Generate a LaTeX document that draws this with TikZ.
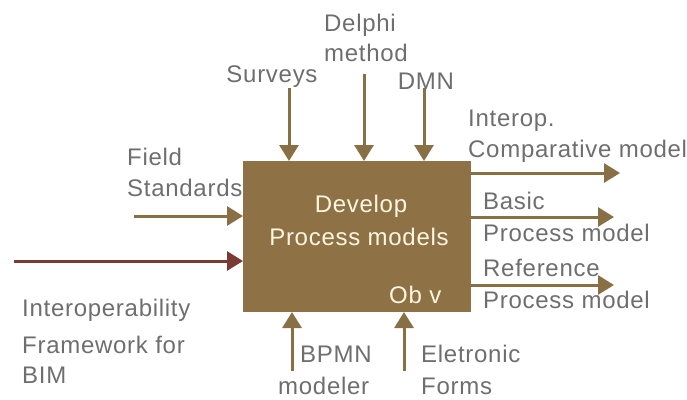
\documentclass[tikz,border=0pt]{standalone}
\usepackage{fontspec}
\setmainfont{Liberation Sans}[LetterSpace=3]
\usetikzlibrary{arrows.meta}
\definecolor{boxbrown}{RGB}{142,114,70}
\definecolor{arrbrown}{RGB}{137,112,68}
\definecolor{darkred}{RGB}{120,58,50}
\definecolor{txtgray}{RGB}{110,110,110}
\definecolor{cream}{RGB}{255,246,225}
\begin{document}
\begin{tikzpicture}[x=1pt,y=-1pt,
  lbl/.style={inner sep=0pt,text=txtgray,font=\fontsize{24}{28}\selectfont},
  inlbl/.style={inner sep=0pt,text=cream,font=\fontsize{24}{28}\selectfont},
  arr/.style={draw=arrbrown,line width=3pt,-{Triangle[width=19pt,length=16pt]}},
  redarr/.style={draw=darkred,line width=3pt,-{Triangle[width=19pt,length=16pt]}}]
\useasboundingbox (0,0) rectangle (687,399);
\node[fill=boxbrown,draw=none,minimum width=228pt,minimum height=151pt,inner sep=0pt,anchor=north west] (box) at (243,161) {};
% box texts
\node[inlbl,anchor=base] (t1) at (361,212) {Develop};
\node[inlbl,anchor=base] (t2) at (359,245) {Process models};
\node[inlbl,anchor=base west] (t3) at (389,303) {Ob v};
% top inputs
\coordinate (s0) at (289,88); \coordinate (s1) at (289,161);
\coordinate (d0) at (364,74); \coordinate (d1) at (364,161);
\coordinate (m0) at (424,88); \coordinate (m1) at (424,161);
\draw[arr] (s0) -- (s1);
\draw[arr] (d0) -- (d1);
\draw[arr] (m0) -- (m1);
\node[lbl,anchor=base] (surv) at (272,82) {Surveys};
\node[lbl,anchor=base west] (del1) at (324,31) {Delphi};
\node[lbl,anchor=base west] (del2) at (324,61) {method};
\node[lbl,anchor=base] (dmn) at (426,89) {DMN};
% left inputs
\coordinate (f0) at (134,216); \coordinate (f1) at (243,216);
\coordinate (r0) at (14,261); \coordinate (r1) at (243,261);
\draw[arr] (f0) -- (f1);
\draw[redarr] (r0) -- (r1);
\node[lbl,anchor=base west] (fs1) at (127,165) {Field};
\node[lbl,anchor=base west] (fs2) at (127,196) {Standards};
\node[lbl,anchor=base west] (if1) at (22,316) {Interoperability};
\node[lbl,anchor=base west] (if2) at (22,353) {Framework for};
\node[lbl,anchor=base west] (if3) at (22,383) {BIM};
% right outputs
\coordinate (o1a) at (471,173); \coordinate (o1b) at (620,173);
\coordinate (o2a) at (471,217); \coordinate (o2b) at (614,217);
\coordinate (o3a) at (471,285); \coordinate (o3b) at (614,285);
\draw[arr] (o1a) -- (o1b);
\draw[arr] (o2a) -- (o2b);
\draw[arr] (o3a) -- (o3b);
\node[lbl,anchor=base west] (ic1) at (468,126) {Interop.};
\node[lbl,anchor=base west] (ic2) at (468,157) {Comparative model};
\node[lbl,anchor=base west] (bp1) at (483,209) {Basic};
\node[lbl,anchor=base west] (bp2) at (483,241) {Process model};
\node[lbl,anchor=base west] (rp1) at (483,276) {Reference};
\node[lbl,anchor=base west] (rp2) at (483,308) {Process model};
% bottom mechanisms
\coordinate (b0) at (292,371); \coordinate (b1) at (292,312);
\coordinate (e0) at (404,371); \coordinate (e1) at (404,312);
\draw[arr] (b0) -- (b1);
\draw[arr] (e0) -- (e1);
\node[lbl,anchor=base west] (bm1) at (300,362) {BPMN};
\node[lbl,anchor=base west] (bm2) at (278,394) {modeler};
\node[lbl,anchor=base west] (ef1) at (421,362) {Eletronic};
\node[lbl,anchor=base west] (ef2) at (421,394) {Forms};
\end{tikzpicture}
\end{document}
